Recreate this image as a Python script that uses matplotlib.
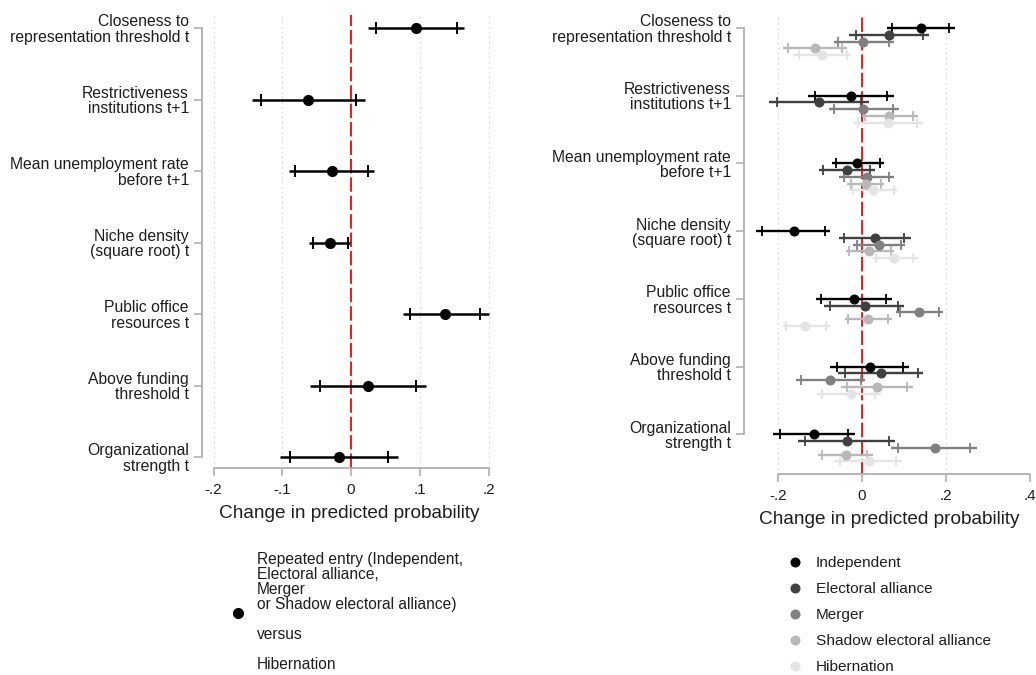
import matplotlib
matplotlib.use("Agg")
import matplotlib.pyplot as plt

plt.rcParams['font.family'] = ['Liberation Sans', 'DejaVu Sans']

# predictors (rows, top to bottom)
predictors = ["Closeness to\nrepresentation threshold t",
              "Restrictiveness\ninstitutions t+1",
              "Mean unemployment rate\nbefore t+1",
              "Niche density\n(square root) t",
              "Public office\nresources t",
              "Above funding\nthreshold t",
              "Organizational\nstrength t"]

# binary model: repeated entry vs hibernation
bin_est = [0.094, -0.062, -0.028, -0.031, 0.137, 0.025, -0.017]
bin_lo95 = [0.025, -0.144, -0.090, -0.061, 0.076, -0.059, -0.103]
bin_lo90 = [0.036, -0.131, -0.081, -0.056, 0.086, -0.045, -0.089]
bin_hi90 = [0.154, 0.007, 0.024, -0.005, 0.188, 0.095, 0.054]
bin_hi95 = [0.164, 0.020, 0.033, -0.001, 0.200, 0.109, 0.068]

# multinomial model, one list per outcome
outcomes = ["Independent", "Electoral alliance", "Merger",
            "Shadow electoral alliance", "Hibernation"]
mn_est = [
    [0.140, -0.025, -0.011, -0.162, -0.019, 0.019, -0.113],
    [0.064, -0.103, -0.036, 0.031, 0.006, 0.045, -0.036],
    [0.003, 0.003, 0.011, 0.041, 0.136, -0.075, 0.173],
    [-0.112, 0.064, 0.010, 0.017, 0.014, 0.035, -0.039],
    [-0.094, 0.061, 0.027, 0.075, -0.135, -0.025, 0.017],
]
mn_lo95 = [
    [0.059, -0.129, -0.072, -0.252, -0.109, -0.075, -0.211],
    [-0.030, -0.220, -0.102, -0.054, -0.090, -0.056, -0.153],
    [-0.067, -0.078, -0.054, -0.021, 0.081, -0.157, 0.069],
    [-0.187, -0.001, -0.035, -0.038, -0.040, -0.051, -0.104],
    [-0.163, -0.021, -0.030, 0.027, -0.189, -0.108, -0.066],
]
mn_lo90 = [
    [0.071, -0.112, -0.062, -0.239, -0.097, -0.060, -0.195],
    [-0.015, -0.203, -0.092, -0.042, -0.076, -0.040, -0.136],
    [-0.056, -0.066, -0.043, -0.013, 0.090, -0.146, 0.086],
    [-0.175, 0.008, -0.026, -0.030, -0.033, -0.036, -0.094],
    [-0.151, -0.009, -0.021, 0.033, -0.181, -0.096, -0.052],
]
mn_hi90 = [
    [0.208, 0.060, 0.043, -0.087, 0.057, 0.097, -0.033],
    [0.144, -0.003, 0.019, 0.101, 0.086, 0.132, 0.064],
    [0.065, 0.073, 0.065, 0.092, 0.182, -0.003, 0.257],
    [-0.047, 0.122, 0.045, 0.068, 0.061, 0.108, 0.011],
    [-0.036, 0.130, 0.075, 0.121, -0.086, 0.031, 0.082],
]
mn_hi95 = [
    [0.221, 0.076, 0.053, -0.075, 0.071, 0.112, -0.017],
    [0.159, 0.016, 0.032, 0.116, 0.101, 0.146, 0.079],
    [0.075, 0.087, 0.075, 0.102, 0.192, 0.007, 0.274],
    [-0.036, 0.134, 0.052, 0.076, 0.071, 0.121, 0.025],
    [-0.026, 0.144, 0.084, 0.132, -0.076, 0.044, 0.094],
]
mn_colors = ["#000000", "#404040", "#808080", "#b8b8b8", "#e4e4e4"]

W, H = 1036, 675
fig = plt.figure(figsize=(W / 100, H / 100), dpi=100)
fig.patch.set_facecolor("white")

AXC = "#b0b0b0"
TXT = "#1e1e1e"


def px_axes(l, r, t, b):
    return fig.add_axes([l / W, (H - b) / H, (r - l) / W, (b - t) / H])


def style(ax, xticks, xticklabels, grid_at):
    for s in ["top", "right"]:
        ax.spines[s].set_visible(False)
    for s in ["left", "bottom"]:
        ax.spines[s].set_color(AXC)
        ax.spines[s].set_linewidth(1.3)
    ax.spines["left"].set_bounds(0, 6)
    ax.spines["bottom"].set_bounds(xticks[0], xticks[-1])
    ax.set_yticks(range(len(predictors)))
    ax.set_yticklabels(predictors, fontsize=11.3, color=TXT, linespacing=1.02)
    ax.set_xticks(xticks)
    ax.set_xticklabels(xticklabels, fontsize=11, color=TXT)
    ax.tick_params(axis="both", color=AXC, length=5.5, width=1.2)
    ax.tick_params(axis="x", pad=5)
    ax.tick_params(axis="y", pad=4)
    ax.set_xlabel("Change in predicted probability", fontsize=13.7, color=TXT, labelpad=6)
    for g in grid_at:
        ax.axvline(g, color="#cccccc", lw=0.9, ls=(0, (1, 3)), zorder=0)
    ax.axvline(0, color="red", lw=1.3, dashes=(8, 2.2), zorder=1)
    ax.set_facecolor("white")


# left: binary model
ax1 = px_axes(202, 497, 15, 468)
ax1.set_xlim((202 - 351) / 687.5, (497 - 351) / 687.5)
ax1.set_ylim(440 / 71.5, -13 / 71.5)
style(ax1, [-0.2, -0.1, 0, 0.1, 0.2], ["-.2", "-.1", "0", ".1", ".2"],
      [-0.2, -0.1, 0.1, 0.2])
rows = list(range(len(predictors)))
ax1.hlines(rows, bin_lo95, bin_hi95, color="black", lw=1.8, zorder=3)
ax1.plot(bin_lo90, rows, ls="none", marker="|", ms=8, mew=1.4, color="black", zorder=3)
ax1.plot(bin_hi90, rows, ls="none", marker="|", ms=8, mew=1.4, color="black", zorder=3)
bin_handle, = ax1.plot(bin_est, rows, ls="none", marker="o", ms=7, color="black", zorder=4)

leg1 = fig.legend([bin_handle],
                  ["Repeated entry (Independent,\nElectoral alliance,\nMerger\n"
                   "or Shadow electoral alliance)\n\nversus\n\nHibernation"],
                  loc="center left", bbox_to_anchor=(230 / W, (H - 612) / H),
                  frameon=False, handlelength=1.0, handletextpad=0.75,
                  borderpad=0, borderaxespad=0, labelcolor=TXT,
                  prop={"size": 11.2})
leg1.get_texts()[0].set_linespacing(1.0)

# right: multinomial model
ax2 = px_axes(744, 1034, 15, 474)
ax2.set_xlim((744 - 862) / 420.5, (1034 - 862) / 420.5)
ax2.set_ylim(446 / 67.7, -13 / 67.7)
style(ax2, [-0.2, 0, 0.2, 0.4], ["-.2", "0", ".2", ".4"], [-0.2, 0.2])
handles = []
for j, name in enumerate(outcomes):
    ys = [r + 0.1 * j for r in rows]
    c = mn_colors[j]
    ax2.hlines(ys, mn_lo95[j], mn_hi95[j], color=c, lw=1.7, zorder=3)
    ax2.plot(mn_lo90[j], ys, ls="none", marker="|", ms=7.5, mew=1.3, color=c, zorder=3)
    ax2.plot(mn_hi90[j], ys, ls="none", marker="|", ms=7.5, mew=1.3, color=c, zorder=3)
    h, = ax2.plot(mn_est[j], ys, ls="none", marker="o", ms=6.2, color=c, zorder=4)
    handles.append(h)

fig.legend(handles, outcomes, loc="center left",
           bbox_to_anchor=(788 / W, (H - 615) / H), frameon=False,
           handlelength=0.95, handletextpad=0.85, labelspacing=0.78,
           borderpad=0, borderaxespad=0, labelcolor=TXT, prop={"size": 11.1})

fig.savefig("out.png", dpi=100, facecolor="white")
